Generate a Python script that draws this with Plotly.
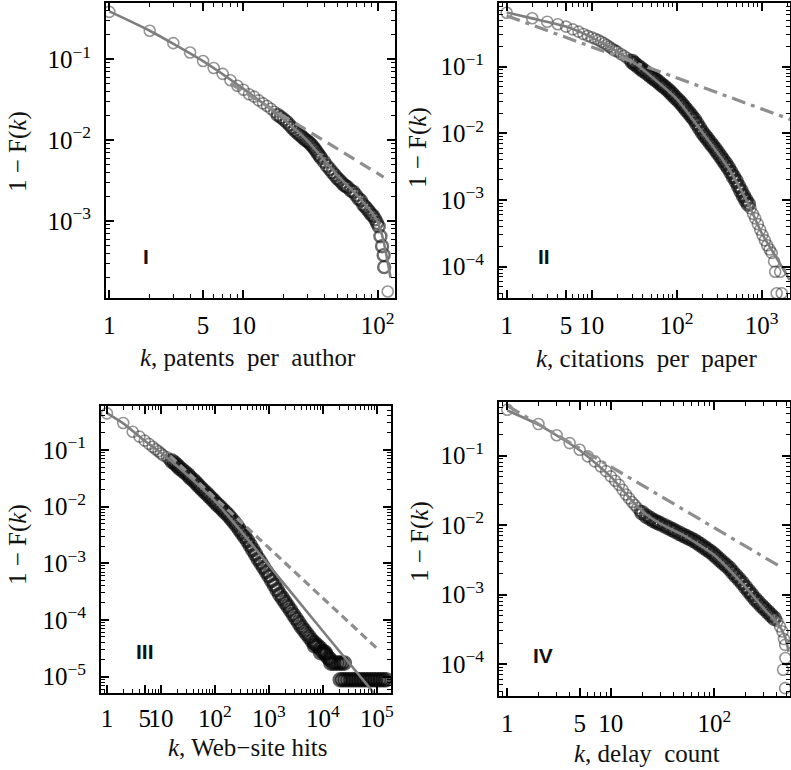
import math
import plotly.graph_objects as go

# ---------------- data ----------------
# Panel I : patents per author
k_I = [1, 2, 3, 4, 5, 6, 7, 8, 9, 10, 11, 12, 13, 14, 15, 16, 17, 18, 19, 20,
       21, 22, 23, 24, 25, 26, 27, 28, 29, 30, 31, 32, 33, 34, 35, 36, 37, 38,
       40, 42, 44, 46, 48, 50, 52, 54, 56, 58, 60, 63, 66, 69, 72, 75, 78, 81,
       84, 87, 90, 93, 96, 99, 102, 105, 108, 111, 112, 119]
y_I = [0.385, 0.225, 0.158, 0.121, 0.095, 0.078, 0.066, 0.055, 0.047, 0.042,
       0.037, 0.0345, 0.031, 0.0285, 0.0265, 0.0245, 0.0225, 0.0205, 0.0192, 0.018,
       0.0168, 0.0155, 0.0143, 0.0133, 0.0125, 0.0118, 0.0112, 0.0106, 0.0101, 0.0097,
       0.0093, 0.0088, 0.0083, 0.0078, 0.0073, 0.0068, 0.0064, 0.0060,
       0.0054, 0.0048, 0.0044, 0.0040, 0.0037, 0.0034,
       0.0032, 0.0030, 0.0028, 0.0027, 0.0026,
       0.0024, 0.0023, 0.0021, 0.0019, 0.0018, 0.0016, 0.0015, 0.0014, 0.0013, 0.0012,
       0.00115, 0.00105, 0.00095,
       0.00086, 0.00065, 0.00049, 0.00038, 0.00027, 0.000135]
fit_k_I = [1, 2, 5, 10, 20, 30, 50, 70, 90, 100, 110, 125]
fit_y_I = [0.39, 0.225, 0.095, 0.043, 0.018, 0.0098, 0.0037, 0.0021, 0.0013, 0.00098, 0.0006, 0.0002]
pl_k_I = [8, 111]
pl_y_I = [0.050, 0.0035]

# Panel II : citations per paper
k_II = [1, 2, 3, 4, 5, 6, 7, 8, 9, 10, 11, 12, 13, 14, 15, 16, 17, 18, 19, 20,
        22, 24, 26, 28, 30,
        32, 35, 38, 41, 45, 49, 53, 57, 62, 67, 72, 78, 84, 90, 97, 105, 113, 121,
        130, 140, 150, 161, 173, 186, 200, 215, 230, 247, 265, 285, 305, 328, 352,
        378, 405, 435, 466, 500, 535, 570, 610, 650, 695, 740, 790, 840, 900, 960,
        1020, 1090, 1160, 1240, 1310, 1400, 1440, 1650, 1500, 1720]
y_II = [0.645, 0.532, 0.473, 0.432, 0.398, 0.363, 0.335, 0.309, 0.29, 0.275,
        0.262, 0.25, 0.237, 0.224, 0.211, 0.2, 0.19, 0.181, 0.174, 0.168,
        0.155, 0.145, 0.135, 0.127, 0.119,
        0.111, 0.1014, 0.0935, 0.0868, 0.0794, 0.0731, 0.0676, 0.0629, 0.0578, 0.0532,
        0.0494, 0.0455, 0.0415, 0.0379, 0.0343, 0.031, 0.0281, 0.0253, 0.0226, 0.0202,
        0.0181, 0.0161, 0.0139, 0.012, 0.0104, 0.0092, 0.0082, 0.00731, 0.00652, 0.00577,
        0.00512, 0.00448, 0.00394, 0.00348, 0.00305, 0.00261, 0.00224, 0.00192, 0.00161, 0.00137,
        0.00116, 0.001, 0.00087, 0.00075, 0.00062, 0.00053, 0.000435, 0.000358, 0.000298, 0.000248,
        0.000209, 0.000181, 0.000161, 0.00012, 0.000084, 0.000084, 0.00004, 0.00004]
fit_k_II = [1, 2, 5, 10, 20, 30, 50, 100, 200, 400, 700, 1000, 1500, 2140]
fit_y_II = [0.65, 0.53, 0.40, 0.275, 0.168, 0.12, 0.072, 0.033, 0.0104, 0.0031,
            0.00086, 0.00032, 0.000134, 0.000063]
pl_k_II = [1, 2200]
pl_y_II = [0.58, 0.0161]

# Panel III : Web-site hits
k_III = [1, 2, 3, 4, 5, 6, 7, 8, 9, 10,
         11, 13, 14, 16, 18, 20, 22, 25, 28, 32, 35, 40, 45, 50, 56, 63, 71, 79, 89, 100,
         112, 126, 141, 158, 178, 200, 224, 251, 282, 316, 355, 398, 447, 501, 562, 631,
         708, 794, 891, 1000, 1120, 1260, 1410, 1580, 1780, 2000, 2240, 2510, 2820, 3160,
         3550, 3980, 4470, 5010, 5620, 6310, 7080, 7940, 8910, 10000, 11200, 12600, 13500,
         7000, 9000, 11000,
         14000, 15700, 17600, 19800, 22200, 24900,
         20900, 23400, 26300, 29500, 33100, 37100, 41700, 46800, 52500, 58900, 66100,
         74100, 83200, 93300, 104700, 117500, 131800, 147900]
y_III = [0.443, 0.30, 0.21, 0.172, 0.146, 0.128, 0.114, 0.103, 0.095, 0.087,
         0.0804, 0.0743, 0.0685, 0.0634, 0.0585, 0.0532, 0.0483, 0.0439, 0.0399, 0.0362,
         0.0324, 0.0291, 0.0261, 0.0234, 0.0209, 0.0187, 0.0168, 0.0151, 0.0135, 0.0121,
         0.0108, 0.00973, 0.00871, 0.00782, 0.00698, 0.00611, 0.00535, 0.00468, 0.0040, 0.00343,
         0.00293, 0.00251, 0.00209, 0.00174, 0.00145, 0.0012, 0.00101, 0.000851, 0.000716, 0.000603,
         0.000498, 0.000412, 0.000341, 0.000282, 0.00024, 0.000204, 0.000174, 0.000148, 0.000125, 0.000106,
         8.96e-5, 7.59e-5, 6.57e-5, 5.69e-5, 4.93e-5, 4.27e-5, 3.86e-5, 3.49e-5, 3.16e-5, 2.78e-5,
         2.45e-5, 2.15e-5, 2.0e-5,
         3.5e-5, 2.65e-5, 2.65e-5,
         1.73e-5, 1.73e-5, 1.73e-5, 1.73e-5, 1.73e-5, 1.73e-5,
         8.8e-6, 8.8e-6, 8.8e-6, 8.8e-6, 8.8e-6, 8.8e-6, 8.8e-6, 8.8e-6, 8.8e-6, 8.8e-6, 8.8e-6,
         8.8e-6, 8.8e-6, 8.8e-6, 8.8e-6, 8.8e-6, 8.8e-6, 8.8e-6]
fit_k_III = [1, 2, 5, 10, 30, 100, 290, 1000, 10000, 100000]
fit_y_III = [0.447, 0.295, 0.145, 0.089, 0.037, 0.0126, 0.00388, 0.00092, 0.000063, 0.0000044]
pl_k_III = [15, 98600]
pl_y_III = [0.0774, 3.18e-5]

# Panel IV : delay count
k_IV = [1, 2, 3, 4, 5, 6, 7, 8, 9, 10, 11, 12, 13, 14, 15, 16, 17, 18, 19, 20,
        22, 24, 26, 28, 30, 33, 36, 39, 42, 46, 50, 54, 58, 63, 68, 73, 79, 85, 91, 98,
        105, 113, 121, 130, 140, 150, 161, 173, 186, 200, 215, 230, 247, 265, 285, 305,
        328, 352, 378, 405, 430, 454, 470, 482, 485, 460, 482]
y_IV = [0.46, 0.286, 0.197, 0.152, 0.122, 0.098, 0.083, 0.070, 0.060, 0.0505,
        0.0436, 0.0382, 0.0323, 0.0277, 0.0243, 0.0216, 0.0195, 0.0177, 0.0163, 0.0151,
        0.0135, 0.0125, 0.0116, 0.0110, 0.0105, 0.0098, 0.00918, 0.00865, 0.00818, 0.00762,
        0.00716, 0.00678, 0.00643, 0.00604, 0.00564, 0.00525, 0.00483, 0.00448, 0.00417, 0.00383,
        0.00349, 0.00316, 0.00288, 0.00262, 0.00237, 0.0021, 0.00187, 0.00166, 0.00147, 0.00128,
        0.00112, 0.000986, 0.000863, 0.000775, 0.000693, 0.000627, 0.000561, 0.000506, 0.000457, 0.000414,
        0.000348, 0.000295, 0.000229, 0.000189, 0.000122, 8.3e-5, 4.5e-5]
fit_k_IV = [1, 2, 5, 10, 15, 20, 30, 50, 100, 200, 300, 400, 480, 520]
fit_y_IV = [0.45, 0.28, 0.12, 0.05, 0.025, 0.016, 0.0105, 0.0072, 0.0037, 0.00128,
            0.00063, 0.0004, 0.00025, 0.00015]
pl_k_IV = [1, 428]
pl_y_IV = [0.526, 0.00255]

# tick labels
xt_I = [1, 5, 10, 100]
xl_I = ["1", "5", "10", "10<sup>2</sup>"]
xt_II = [1, 5, 10, 100, 1000]
xl_II = ["1", "5", "10", "10<sup>2</sup>", "10<sup>3</sup>"]
xt_III = [1, 5, 10, 100, 1000, 10000, 100000]
xl_III = ["1", "5", "10", "10<sup>2</sup>", "10<sup>3</sup>", "10<sup>4</sup>", "10<sup>5</sup>"]
xt_IV = [1, 5, 10, 100]
xl_IV = ["1", "5", "10", "10<sup>2</sup>"]
yt_I = [1e-1, 1e-2, 1e-3]
yt_II = [1e-1, 1e-2, 1e-3, 1e-4]
yt_III = [1e-1, 1e-2, 1e-3, 1e-4, 1e-5]
yt_IV = [1e-1, 1e-2, 1e-3, 1e-4]

titles = ["<i>k</i>, patents\u00a0 per\u00a0 author",
          "<i>k</i>, citations\u00a0 per\u00a0 paper",
          "<i>k</i>, Web\u2212site hits",
          "<i>k</i>, delay\u00a0 count"]
numerals = ["I", "II", "III", "IV"]

for a, b in [(k_I, y_I), (k_II, y_II), (k_III, y_III), (k_IV, y_IV)]:
    assert len(a) == len(b), (len(a), len(b))

# ---------------- layout geometry & styles ----------------
W, H = 791, 770
SERIF = "Liberation Serif, Times New Roman, serif"
FS = 25

panels = [
    dict(k=k_I, y=y_I, fk=fit_k_I, fy=fit_y_I, pk=pl_k_I, py=pl_y_I, dash="12px,7px",
         band=(18, 115, 2.4, "rgba(10,10,10,0.85)"), xstand=4,
         box=(106, 395, 3, 298), xr=[-0.025, 2.13], yr=[-3.95, -0.305],
         xt=xt_I, xl=xl_I, yt=yt_I, ytitle=(18, 152), xtitle=(248, 357), num=(146, 256)),
    dict(k=k_II, y=y_II, fk=fit_k_II, fy=fit_y_II, pk=pl_k_II, py=pl_y_II, dash="14px,6px,4px,6px",
         band=(30, 700, 3.6, "rgba(5,5,5,0.9)"), xstand=4,
         box=(499, 790, 3, 298), xr=[-0.09, 3.333], yr=[-4.47, -0.045],
         xt=xt_II, xl=xl_II, yt=yt_II, ytitle=(418, 147), xtitle=(646, 358), num=(544, 257)),
    dict(k=k_III, y=y_III, fk=fit_k_III, fy=fit_y_III, pk=pl_k_III, py=pl_y_III, dash="8px,5px",
         band=(15, 200000, 3.6, "rgba(5,5,5,0.9)"), xstand=2,
         box=(101, 391, 406, 693), xr=[-0.11, 5.26], yr=[-5.29, -0.224],
         xt=xt_III, xl=xl_III, yt=yt_III, ytitle=(18, 545), xtitle=(248, 747), num=(145, 651)),
    dict(k=k_IV, y=y_IV, fk=fit_k_IV, fy=fit_y_IV, pk=pl_k_IV, py=pl_y_IV, dash="14px,6px,4px,6px",
         band=(20, 400, 3.6, "rgba(5,5,5,0.9)"), xstand=4,
         box=(499, 790, 402, 696), xr=[-0.08, 2.73], yr=[-4.46, -0.226],
         xt=xt_IV, xl=xl_IV, yt=yt_IV, ytitle=(420, 542), xtitle=(647, 753), num=(543, 655)),
]

SPARSE_COLOR = "rgba(30,30,30,0.68)"


def minor_vals(lo, hi):
    out = []
    for e in range(math.floor(lo) - 1, math.ceil(hi) + 1):
        for m in range(2, 10):
            v = m * 10 ** e
            if lo <= math.log10(v) <= hi:
                out.append(v)
    return out


def ysup(v):
    e = int(round(math.log10(v)))
    return "10<sup>\u2212%d</sup>" % (-e)


fig = go.Figure()
layout = dict(width=W, height=H, margin=dict(l=0, r=0, t=0, b=0, pad=0),
              paper_bgcolor="white", plot_bgcolor="white", showlegend=False,
              annotations=[])

for i, p in enumerate(panels, start=1):
    sx = "" if i == 1 else str(i)
    xa, ya = "x" + sx, "y" + sx
    bmin, bmax, bw, bc = p["band"]
    inband = [bmin <= kk <= bmax for kk in p["k"]]
    fig.add_trace(go.Scatter(
        x=p["k"], y=p["y"], mode="markers", xaxis=xa, yaxis=ya,
        marker=dict(symbol="circle-open", size=[12 if b else 11 for b in inband],
                    color=[bc if b else SPARSE_COLOR for b in inband],
                    line=dict(width=[bw if b else 1.6 for b in inband])),
        cliponaxis=True))
    fig.add_trace(go.Scatter(
        x=p["fk"], y=p["fy"], mode="lines", xaxis=xa, yaxis=ya,
        line=dict(color="#7e7e7e", width=2.6, shape="spline", smoothing=0.6)))
    fig.add_trace(go.Scatter(
        x=p["pk"], y=p["py"], mode="lines", xaxis=xa, yaxis=ya,
        line=dict(color="#8e8e8e", width=3.2, dash=p["dash"])))

    x0, x1, y0, y1 = p["box"]
    common = dict(type="log", showline=True, linecolor="black", linewidth=2,
                  mirror="ticks", ticks="inside", ticklen=8, tickwidth=1.5,
                  tickcolor="black", showgrid=False, zeroline=False,
                  tickfont=dict(family=SERIF, size=FS, color="black"),
                  tickmode="array", tickangle=0, automargin=False)
    layout["xaxis" + sx] = dict(
        common, domain=[x0 / W, x1 / W], anchor=ya, range=p["xr"],
        tickvals=p["xt"], ticktext=p["xl"], ticklabelstandoff=p["xstand"],
        minor=dict(ticks="inside", ticklen=4, tickwidth=1, tickcolor="black",
                   tickmode="array", tickvals=minor_vals(*p["xr"]), showgrid=False))
    layout["yaxis" + sx] = dict(
        common, domain=[1 - y1 / H, 1 - y0 / H], anchor=xa, range=p["yr"],
        tickvals=p["yt"], ticktext=[ysup(v) for v in p["yt"]], ticklabelstandoff=8,
        minor=dict(ticks="inside", ticklen=4, tickwidth=1, tickcolor="black",
                   tickmode="array", tickvals=minor_vals(*p["yr"]), showgrid=False))

    tx, ty = p["ytitle"]
    layout["annotations"].append(dict(
        text="1 \u2212 F(<i>k</i>)", x=tx / W, y=1 - ty / H, xref="paper", yref="paper",
        textangle=-90, showarrow=False, xanchor="center", yanchor="middle",
        font=dict(family=SERIF, size=FS, color="#111")))
    tx, ty = p["xtitle"]
    layout["annotations"].append(dict(
        text=titles[i - 1], x=tx / W, y=1 - ty / H, xref="paper", yref="paper",
        showarrow=False, xanchor="center", yanchor="middle",
        font=dict(family=SERIF, size=FS, color="#111")))
    tx, ty = p["num"]
    layout["annotations"].append(dict(
        text="<b>%s</b>" % numerals[i - 1], x=tx / W, y=1 - ty / H, xref="paper", yref="paper",
        showarrow=False, xanchor="center", yanchor="middle",
        font=dict(family="Liberation Sans, Arial, sans-serif", size=21, color="#111")))

fig.update_layout(**layout)
fig.write_html(
    "out.html",
    config={"displayModeBar": False},
    post_script="document.body.style.margin='0';document.body.style.padding='0';"
                "document.documentElement.style.overflow='hidden';")
